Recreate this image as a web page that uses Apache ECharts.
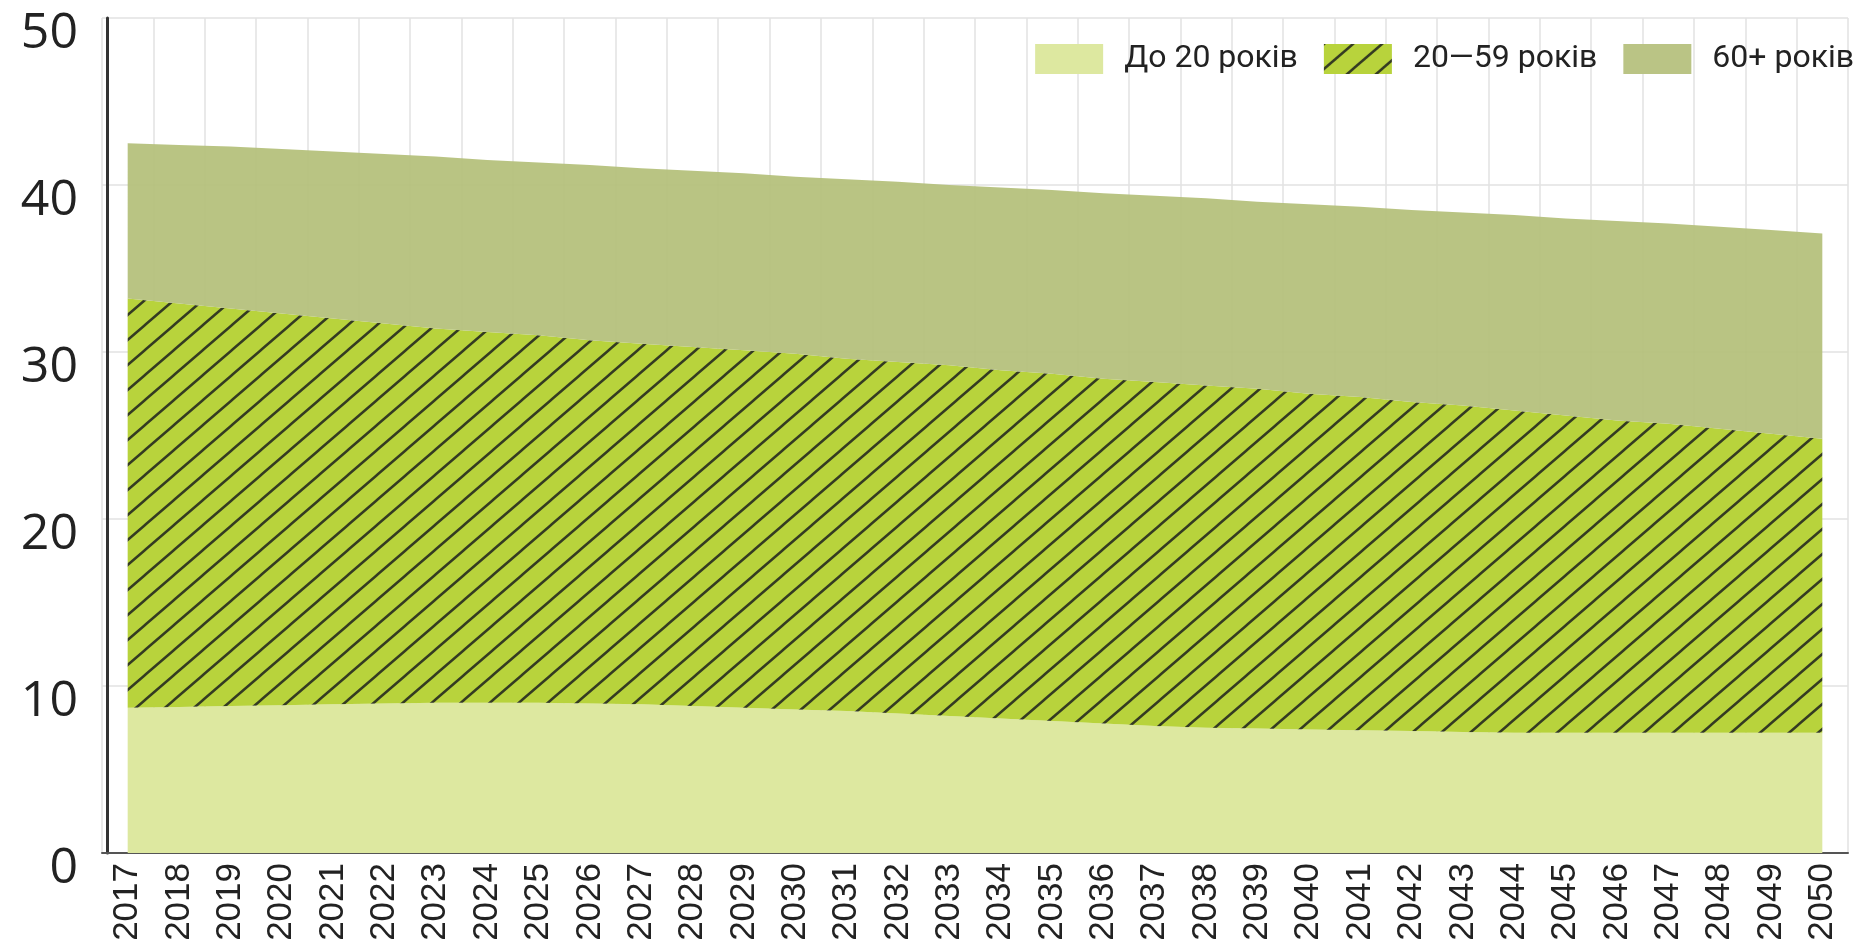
<!DOCTYPE html>
<html>
<head>
<meta charset="utf-8">
<script src="https://cdn.jsdelivr.net/npm/echarts@6/dist/echarts.min.js"></script>
<style>
html,body{margin:0;padding:0;background:#fff;}
#chart{width:1867px;height:948px;}
</style>
</head>
<body>
<div id="chart"></div>
<script>
var years = ['2017','2018','2019','2020','2021','2022','2023','2024','2025','2026','2027','2028','2029','2030','2031','2032','2033','2034','2035','2036','2037','2038','2039','2040','2041','2042','2043','2044','2045','2046','2047','2048','2049','2050'];
var under20 = [8.7,8.75,8.8,8.85,8.9,8.95,9.0,9.0,9.0,8.95,8.9,8.8,8.7,8.6,8.5,8.35,8.2,8.05,7.9,7.75,7.6,7.5,7.45,7.4,7.35,7.3,7.25,7.2,7.2,7.2,7.2,7.2,7.2,7.2];
var age20to59 = [24.5,24.15,23.8,23.45,23.1,22.75,22.4,22.2,22.0,21.75,21.6,21.5,21.4,21.3,21.1,21.05,21.0,20.85,20.8,20.65,20.6,20.5,20.35,20.1,19.95,19.7,19.55,19.3,19.0,18.7,18.5,18.2,17.9,17.6];
var age60plus = [9.3,9.5,9.7,9.85,10.0,10.15,10.3,10.3,10.35,10.5,10.5,10.55,10.6,10.6,10.75,10.8,10.8,10.95,11.0,11.1,11.15,11.2,11.2,11.35,11.4,11.5,11.55,11.7,11.8,11.95,12.0,12.1,12.2,12.3];
var seriesNames = ['До 20 років','20—59 років','60+ років'];
var yTicks = {min:0, max:50, interval:10};

function makeHatch(){
  var W = 29, H = 25;
  var c = document.createElement('canvas');
  c.width = W; c.height = H;
  var ctx = c.getContext('2d');
  ctx.fillStyle = '#b8d33c';
  ctx.fillRect(0,0,W,H);
  ctx.strokeStyle = '#343b22';
  ctx.lineWidth = 2.5;
  ctx.beginPath();
  ctx.moveTo(-W, H); ctx.lineTo(W, -H);
  ctx.moveTo(0, H); ctx.lineTo(W, 0);
  ctx.moveTo(0, 2*H); ctx.lineTo(2*W, 0);
  ctx.stroke();
  return c;
}
var hatch = {image: makeHatch(), repeat: 'repeat'};
var colLight = '#dde8a0';
var colOlive = 'rgba(180,191,122,0.93)';

var chart = echarts.init(document.getElementById('chart'), null, {renderer:'canvas'});
chart.setOption({
  backgroundColor: '#fff',
  animation: false,
  grid: {left:102, right:19, top:18, bottom:95, containLabel:false},
  legend: {
    right: 8, top: 38,
    itemWidth: 68, itemHeight: 30, itemGap: 26,
    textStyle: {fontFamily:'Roboto', fontSize:32, color:'#222', padding:[0,0,0,16]},
    data: [
      {name: seriesNames[0], icon:'rect', itemStyle:{color:colLight}},
      {name: seriesNames[1], icon:'rect', itemStyle:{color:hatch}},
      {name: seriesNames[2], icon:'rect', itemStyle:{color:'#bac485'}}
    ]
  },
  xAxis: {
    type: 'category',
    data: years,
    boundaryGap: true,
    axisLine: {show:true, lineStyle:{color:'#555', width:2}},
    axisTick: {show:false},
    axisLabel: {rotate:90, fontFamily:'Liberation Sans', fontSize:35, color:'#222', margin:10, interval:0},
    splitLine: {show:true, lineStyle:{color:'#e2e2e2', width:1.5}}
  },
  yAxis: {
    type: 'value',
    min: yTicks.min, max: yTicks.max, interval: yTicks.interval,
    offset: -5,
    axisLine: {show:true, lineStyle:{color:'#333', width:3}},
    axisTick: {show:false},
    axisLabel: {fontFamily:'Open Sans', fontWeight:400, fontSize:50, color:'#222', margin:29, verticalAlign:'top', lineHeight:31},
    splitLine: {show:true, lineStyle:{color:'#e2e2e2', width:1.5}}
  },
  series: [
    {name: seriesNames[0], type:'line', stack:'total', data: under20, symbol:'none',
     lineStyle:{width:0}, itemStyle:{color:colLight}, areaStyle:{color:colLight, opacity:1}},
    {name: seriesNames[1], type:'line', stack:'total', data: age20to59, symbol:'none',
     lineStyle:{width:0}, itemStyle:{color:hatch}, areaStyle:{color:hatch, opacity:1}},
    {name: seriesNames[2], type:'line', stack:'total', data: age60plus, symbol:'none',
     lineStyle:{width:0}, itemStyle:{color:'#bac485'}, areaStyle:{color:colOlive, opacity:1}}
  ]
});
</script>
</body>
</html>
